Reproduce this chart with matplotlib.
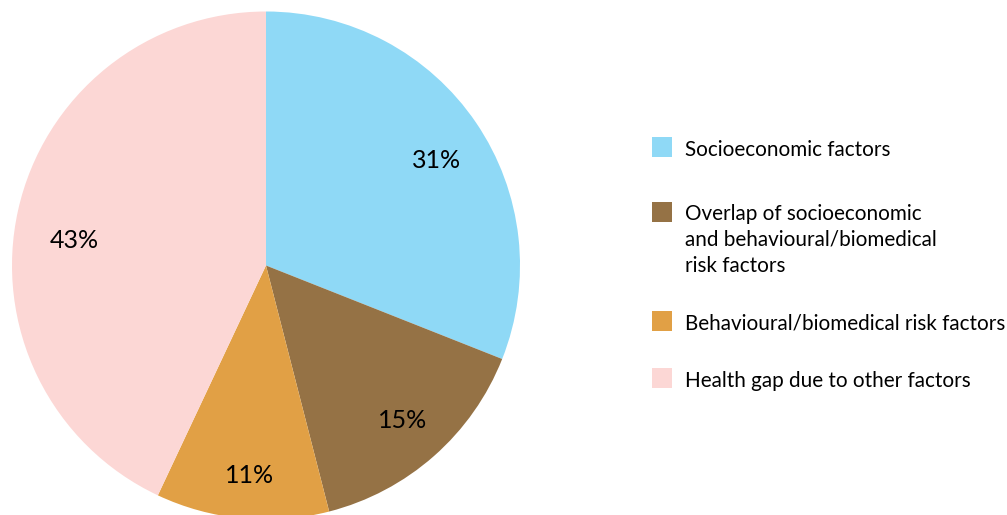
import numpy as np
import matplotlib.pyplot as plt
from matplotlib.patches import Rectangle

# Data
labels = ["Socioeconomic factors",
          "Overlap of socioeconomic\nand behavioural/biomedical\nrisk factors",
          "Behavioural/biomedical risk factors",
          "Health gap due to other factors"]
shares = [31, 15, 11, 43]
colors = ["#8fd9f6", "#957245", "#e1a045", "#fcd7d5"]
# where each percentage label sits: fraction of radius, angle shift from wedge middle
label_dist = [0.79, 0.815, 0.83, 0.76]
label_shift = [-2.5, 0.0, 0.8, 5.3]

W, H = 1007, 515
plt.rcParams['font.family'] = ['Lato', 'DejaVu Sans']

fig = plt.figure(figsize=(W / 100, H / 100), dpi=100)
ax = fig.add_axes([0, 0, 1, 1])

cx, cy, r = 266, H - 265.5, 254
wedges, texts = ax.pie(
    shares, colors=colors, startangle=90, counterclock=False,
    center=(cx, cy), radius=r, wedgeprops=dict(linewidth=0))

for w, s, d, sh in zip(wedges, shares, label_dist, label_shift):
    ang = np.deg2rad((w.theta1 + w.theta2) / 2 + sh)
    ax.text(cx + d * r * np.cos(ang), cy + d * r * np.sin(ang), f"{s}%",
            fontsize=18, ha='center', va='center')

ax.set_xlim(0, W)
ax.set_ylim(0, H)
ax.set_aspect('equal')
ax.axis('off')

# Legend drawn by hand
box_x, text_x, box = 652, 685, 20
row_y = [147, 212, 321, 378]
text_y = [150, 240, 323, 381]
for lab, col, y, ty in zip(labels, colors, row_y, text_y):
    ax.add_patch(Rectangle((box_x, H - y - box / 2), box, box, facecolor=col, edgecolor='none'))
    ax.text(text_x, H - ty, lab, fontsize=14.9, va='center', ha='left', linespacing=1.36)

fig.savefig("out.png", dpi=100)
